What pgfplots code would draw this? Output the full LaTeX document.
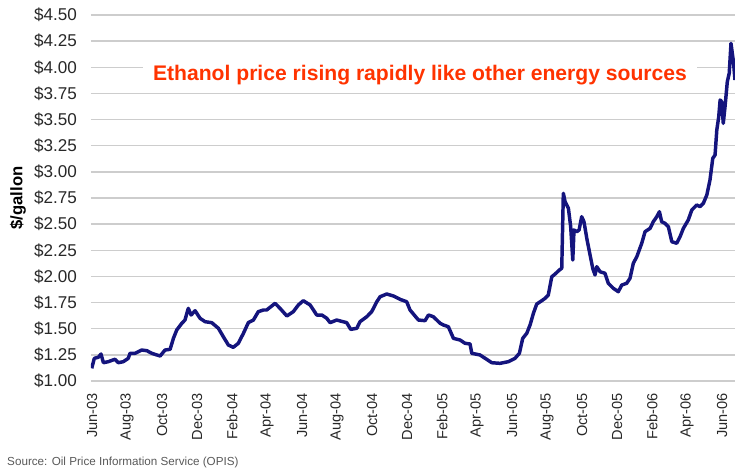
\documentclass[border=0pt]{standalone}
\usepackage{pgfplots}
\pgfplotsset{compat=1.18}
\usepackage{fontspec}
\setmainfont{Liberation Sans}
\definecolor{navy}{RGB}{20,20,125}
\definecolor{gridgray}{RGB}{205,205,205}
\definecolor{titlered}{RGB}{255,51,0}
\definecolor{ticktext}{RGB}{40,40,40}
\begin{document}
\begin{tikzpicture}
\useasboundingbox (-65.52pt,-63.36pt) rectangle (463.68pt,274.32pt);
\begin{axis}[at={(0,0)}, anchor=south west, scale only axis,
  width=463.68pt, height=263.52pt,
  xmin=-0.06, xmax=36.74, ymin=1, ymax=4.5,
  ytick={1,1.25,1.5,1.75,2,2.25,2.5,2.75,3,3.25,3.5,3.75,4,4.25,4.5},
  yticklabels={\$1.00,\$1.25,\$1.50,\$1.75,\$2.00,\$2.25,\$2.50,\$2.75,\$3.00,\$3.25,\$3.50,\$3.75,\$4.00,\$4.25,\$4.50},
  xtick={0,2,4,6,8,10,12,14,16,18,20,22,24,26,28,30,32,34,36},
  xticklabels={Jun-03,Aug-03,Oct-03,Dec-03,Feb-04,Apr-04,Jun-04,Aug-04,Oct-04,Dec-04,Feb-05,Apr-05,Jun-05,Aug-05,Oct-05,Dec-05,Feb-06,Apr-06,Jun-06},
  axis line style={draw=none}, tick style={draw=none},
  ymajorgrids, grid style={gridgray, line width=1.1pt},
  yticklabel style={font=\fontsize{12.3}{13}\selectfont, text=ticktext, anchor=east, inner sep=0pt, xshift=-10pt},
  xticklabel style={font=\fontsize{10.5}{12}\selectfont, text=ticktext, rotate=90, anchor=east, inner xsep=8.6pt, inner ysep=0pt},
  ylabel={\$/gallon},
  every axis y label/.style={at={(axis description cs:0,0.5)}, xshift=-52.6pt, rotate=90, anchor=center, font=\bfseries\fontsize{12}{14}\selectfont},
  clip=true,
]
\addplot[navy, line width=2.5pt, line join=round] coordinates {
(-0.02,1.121) (0.13,1.217) (0.36,1.227) (0.51,1.258) (0.65,1.175) (0.93,1.185)
(1.31,1.208) (1.50,1.175) (1.79,1.185) (2.07,1.217) (2.17,1.265) (2.46,1.265)
(2.84,1.296) (3.13,1.290) (3.41,1.265) (3.89,1.239) (4.17,1.296) (4.46,1.303)
(4.65,1.408) (4.84,1.488) (5.13,1.552) (5.31,1.583) (5.50,1.695) (5.66,1.631)
(5.89,1.672) (6.17,1.600) (6.46,1.567) (6.84,1.558) (7.22,1.504) (7.50,1.424)
(7.79,1.344) (8.07,1.322) (8.36,1.361) (8.65,1.456) (8.93,1.558) (9.22,1.583)
(9.50,1.663) (9.79,1.679) (9.98,1.679) (10.46,1.743) (10.74,1.695) (11.13,1.622)
(11.50,1.663) (11.79,1.727) (12.07,1.768) (12.46,1.727) (12.84,1.631) (13.13,1.631)
(13.41,1.600) (13.60,1.558) (13.98,1.583) (14.55,1.558) (14.78,1.494) (15.13,1.504)
(15.31,1.567) (15.70,1.615) (15.98,1.663) (16.27,1.758) (16.46,1.806) (16.84,1.832)
(17.22,1.813) (17.60,1.781) (17.98,1.758) (18.17,1.679) (18.65,1.583) (19.03,1.577)
(19.22,1.631) (19.50,1.615) (19.89,1.552) (20.07,1.536) (20.36,1.519) (20.65,1.408)
(21.03,1.392) (21.31,1.361) (21.60,1.354) (21.70,1.265) (22.17,1.249) (22.46,1.217)
(22.84,1.175) (23.31,1.169) (23.79,1.185) (24.17,1.217) (24.42,1.265) (24.61,1.408)
(24.84,1.456) (25.03,1.536) (25.22,1.647) (25.41,1.736) (25.70,1.768) (25.89,1.791)
(26.07,1.822) (26.27,1.997) (26.46,2.023) (26.70,2.061) (26.84,2.078) (26.93,2.795)
(27.03,2.715) (27.22,2.652) (27.35,2.476) (27.47,2.157) (27.54,2.444) (27.70,2.428)
(27.83,2.444) (27.98,2.571) (28.11,2.523) (28.27,2.365) (28.42,2.237) (28.61,2.078)
(28.74,2.014) (28.84,2.093) (29.03,2.045) (29.31,2.030) (29.50,1.934) (29.79,1.886)
(30.07,1.854) (30.27,1.918) (30.55,1.934) (30.74,1.982) (30.93,2.126) (31.13,2.189)
(31.41,2.317) (31.60,2.428) (31.89,2.460) (32.07,2.523) (32.27,2.571) (32.42,2.619)
(32.55,2.523) (32.74,2.508) (32.93,2.476) (33.13,2.332) (33.41,2.317) (33.60,2.380)
(33.79,2.460) (34.07,2.540) (34.27,2.635) (34.55,2.683) (34.74,2.667) (34.93,2.699)
(35.13,2.779) (35.31,2.922) (35.47,3.130) (35.60,3.161) (35.70,3.400) (35.81,3.527)
(35.89,3.687) (35.98,3.671) (36.07,3.464) (36.17,3.623) (36.30,3.862) (36.41,3.943)
(36.51,4.229) (36.65,4.053) (36.74,3.878)
};
\node[fill=white, anchor=base, inner xsep=7pt, inner ysep=3pt, text=titlered, font=\bfseries\fontsize{15.2}{18}\selectfont] at (axis cs:18.74,3.878) {Ethanol price rising rapidly like other energy sources};
\end{axis}
\node[anchor=base west, inner sep=0pt, text=black!65, font=\fontsize{8.4}{10}\selectfont] at (-60.5pt,-61.0pt) {Source: Oil Price Information Service (OPIS)};
\end{tikzpicture}
\end{document}
